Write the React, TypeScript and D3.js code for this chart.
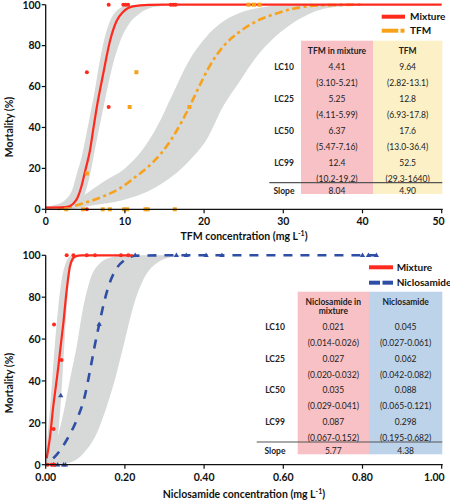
import React from "react";
import * as d3 from "d3";

// ---------- Top panel (TFM) ----------
const tfmTicks = [0, 10, 20, 30, 40, 50];
const yTicks = [0, 20, 40, 60, 80, 100];

const mixCurveX = [0, 2, 3, 3.5, 4, 4.5, 5, 5.6, 6, 6.5, 7.25, 8.1, 8.95, 9.8, 11, 13, 15, 50];
const mixCurveY = [0.8, 0.9, 1.5, 2.8, 5.5, 11, 19, 29, 39, 51, 66, 82, 92, 96.6, 99.2, 99.9, 100, 100];

const tfmCurveX = [1.5, 3.3, 4.7, 7.2, 9.4, 11.4, 13, 14.5, 16, 17.2, 18.2, 19.5, 20.7, 22.4, 24.4, 26.4, 28.8, 31.2, 34.8, 40];
const tfmCurveY = [0.1, 1.3, 2.9, 6.2, 10.3, 16, 21, 27, 35, 43, 50.5, 61, 70, 79.5, 86.5, 91.5, 95.3, 98, 99.7, 100];

const mixBandHiX = [0, 1.5, 2.6, 3.4, 3.9, 4.5, 5.0, 5.6, 6.2, 6.8, 7.6, 8.6, 10.0, 11.5, 13];
const mixBandHiY = [1.5, 2.5, 5, 10, 17, 25, 34, 46, 58, 72, 86, 95.5, 99.3, 99.9, 100];
const mixBandLoX = [0, 2, 3.5, 4.3, 4.9, 5.6, 6.4, 7.3, 8.3, 9.3, 10.6, 11.9, 13.5, 16, 20];
const mixBandLoY = [0, 0, 0.5, 2.5, 7, 17, 33, 50, 68, 81, 91, 95.8, 98.7, 99.9, 100];

const tfmBandHiX = [0, 2, 4, 5.6, 7.5, 10, 12, 14, 16, 18, 20.2, 22.3, 24.4, 27.4, 30.7, 35];
const tfmBandHiY = [1, 2.5, 5, 9, 14, 20, 28, 40, 56, 72, 84, 91.5, 95.8, 98.7, 99.8, 100];
const tfmBandLoX = [0, 3, 5.6, 9.8, 14, 18.2, 20.3, 22.5, 24.4, 26.5, 28.6, 30.8, 33, 35.1, 38, 41.4];
const tfmBandLoY = [0, 0, 1.7, 4.5, 11, 24, 34, 51, 62, 74, 83, 90, 95, 98, 99.4, 100];

const mixPtsX = [5.2, 5.2, 7.95, 7.95, 9.8, 10.1, 10.4, 15.8, 16.1, 16.4];
const mixPtsY = [0, 67, 50, 100, 100, 100, 100, 100, 100, 100];
const tfmPtsX = [2.6, 4.7, 7.2, 8.1, 9.9, 10.3, 12.6, 12.9, 16.3, 5.2, 10.6, 11.45, 18.15, 25.6, 26.3, 27.0];
const tfmPtsY = [0, 0, 0, 0, 0, 0, 0, 0, 0, 17.5, 50, 67, 50, 100, 100, 100];

const lcLabels = ["LC10", "LC25", "LC50", "LC99"];
const tfmMixVals = ["4.41", "5.25", "6.37", "12.4"];
const tfmMixCI = ["(3.10-5.21)", "(4.11-5.99)", "(5.47-7.16)", "(10.2-19.2)"];
const tfmVals = ["9.64", "12.8", "17.6", "52.5"];
const tfmCI = ["(2.82-13.1)", "(6.93-17.8)", "(13.0-36.4)", "(29.3-1640)"];
const tfmSlopes = ["8.04", "4.90"];

// ---------- Bottom panel (Niclosamide) ----------
const niclTicks = [0, 0.2, 0.4, 0.6, 0.8, 1.0];

const nmixCurveX = [0.0025, 0.011, 0.019, 0.026, 0.032, 0.038, 0.0445, 0.053, 0.061, 0.068, 0.075, 0.09, 0.22];
const nmixCurveY = [3, 13.4, 27.7, 38, 47, 57, 67.5, 83.4, 94.6, 98.3, 99.5, 100, 100];

const niclCurveX = [0.019, 0.035, 0.053, 0.078, 0.099, 0.112, 0.124, 0.135, 0.148, 0.162, 0.18, 0.2, 0.226, 0.3, 0.835];
const niclCurveY = [3, 6.5, 11.8, 21.3, 33, 45, 57, 67, 78, 87, 94, 97.8, 99.8, 100, 100];

const nmixBandHiX = [0, 0.004, 0.012, 0.02, 0.03, 0.04, 0.05, 0.06, 0.07];
const nmixBandHiY = [3, 12, 30, 50, 72, 88, 96, 99.3, 100];
const nmixBandLoX = [0, 0.02, 0.03, 0.04, 0.048, 0.055, 0.062, 0.072, 0.085];
const nmixBandLoY = [0, 2, 12, 35, 60, 80, 92, 98, 100];

const niclBandHiX = [0, 0.011, 0.028, 0.0445, 0.061, 0.078, 0.095, 0.112, 0.137, 0.171, 0.2];
const niclBandHiY = [0.5, 2.2, 11.8, 24.5, 40.4, 56.3, 75.4, 88.2, 96.2, 99.3, 100];
const niclBandLoX = [0, 0.053, 0.095, 0.129, 0.154, 0.179, 0.2, 0.221, 0.246, 0.28, 0.322, 0.37];
const niclBandLoY = [0, 0.7, 5.4, 15, 27.7, 43.6, 59.5, 75.4, 88.2, 96.2, 99.3, 100];

const nmixPtsX = [0.005, 0.015, 0.022, 0.02, 0.021, 0.04, 0.053, 0.07, 0.1035, 0.1245, 0.19, 0.2085];
const nmixPtsY = [0, 0, 0, 17, 67, 50, 100, 100, 100, 100, 100, 100];
const niclPtsX = [0.02, 0.03, 0.045, 0.05, 0.038, 0.135, 0.226, 0.33, 0.355, 0.405, 0.445, 0.8, 0.815, 0.835];
const niclPtsY = [0, 0, 0, 0, 33, 67, 100, 100, 100, 100, 100, 100, 100, 100];

const nmixVals = ["0.021", "0.027", "0.035", "0.087"];
const nmixCI = ["(0.014-0.026)", "(0.020-0.032)", "(0.029-0.041)", "(0.067-0.152)"];
const niclVals = ["0.045", "0.062", "0.088", "0.298"];
const niclCI = ["(0.027-0.061)", "(0.042-0.082)", "(0.065-0.121)", "(0.195-0.682)"];
const niclSlopes = ["5.77", "4.38"];

const RED = "#fe2a1e";
const ORANGE = "#f7a21b";
const BLUE = "#2f4fa6";
const BAND = "#d7d8d8";
const PINK = "#f8c1c5";
const YELLOW = "#fcf0c6";
const LBLUE = "#bcd3ea";
const FONT = "Lato, 'Open Sans', sans-serif";

type Sc = d3.ScaleLinear<number, number>;

const zip = (xs: number[], ys: number[]) => xs.map((x, i) => [x, ys[i]] as [number, number]);

function linePath(x: Sc, y: Sc, xs: number[], ys: number[]) {
  return d3.line<[number, number]>().x((d) => x(d[0])).y((d) => y(d[1])).curve(d3.curveMonotoneX)(zip(xs, ys)) || "";
}

function bandPath(x: Sc, y: Sc, hx: number[], hy: number[], lx: number[], ly: number[]) {
  const g = d3.line<[number, number]>().x((d) => x(d[0])).y((d) => y(d[1])).curve(d3.curveMonotoneX);
  const a = g(zip(hx, hy)) || "";
  const lo = zip(lx, ly).reverse();
  const b = (g(lo) || "").replace(/^M/, "L");
  return a + b + "Z";
}

function Axes({ x, y, xt, fmt, x0, x1, y0, y1, title, titleY, ytitleY }: any) {
  return (
    <g fontFamily={FONT} fontWeight={700} fill="#111">
      <line x1={x0} x2={x1} y1={y0} y2={y0} stroke="#111" strokeWidth={1.3} />
      <line x1={x0} x2={x0} y1={y0} y2={y1} stroke="#111" strokeWidth={1.3} />
      {xt.map((t: number, i: number) => {
        const last = i === xt.length - 1;
        return (
          <g key={"x" + t}>
            <line x1={x(t)} x2={x(t)} y1={y0} y2={y0 + 4} stroke="#111" strokeWidth={1.2} />
            <text x={last ? x(t) + 3 : x(t)} y={y0 + 16} textAnchor={last ? "end" : "middle"} fontSize={10.5}>{fmt(t)}</text>
          </g>
        );
      })}
      {yTicks.map((t) => (
        <g key={"y" + t}>
          <line x1={x0 - 4} x2={x0} y1={y(t)} y2={y(t)} stroke="#111" strokeWidth={1.2} />
          <text x={x0 - 5} y={y(t) + 3.8} textAnchor="end" fontSize={10.5}>{t}</text>
        </g>
      ))}
      <text x={244} y={titleY} textAnchor="middle" fontSize={10.5}>
        {title} (mg L<tspan dy={-4} fontSize={7}>-1</tspan><tspan dy={4}>)</tspan>
      </text>
      <text transform={`translate(13,${ytitleY}) rotate(-90)`} textAnchor="middle" fontSize={10.5}>Mortality (%)</text>
    </g>
  );
}

function Table({ left, mid, right, top, bottom, c1, c2, head1, head2, rowY, labX, v1, ci1, v2, ci2, slopes, sepY, sepX0, slopeY }: any) {
  const m1 = (left + mid) / 2;
  const m2 = (mid + right) / 2;
  return (
    <g fontFamily={FONT} fontSize={8.5} fill="#222">
      <rect x={left} y={top} width={mid - left} height={bottom - top} fill={c1} />
      <rect x={mid} y={top} width={right - mid} height={bottom - top} fill={c2} />
      {head1.map((h: string, i: number) => (
        <text key={"h1" + i} x={m1} y={top + 13 + i * 9} textAnchor="middle" fontWeight={700}>{h}</text>
      ))}
      {head2.map((h: string, i: number) => (
        <text key={"h2" + i} x={m2} y={top + 13 + i * 9} textAnchor="middle" fontWeight={700}>{h}</text>
      ))}
      {lcLabels.map((l: string, i: number) => (
        <g key={l}>
          <text x={labX} y={rowY[2 * i] + 3} textAnchor="middle" fontWeight={700}>{l}</text>
          <text x={m1} y={rowY[2 * i] + 3} textAnchor="middle">{v1[i]}</text>
          <text x={m1} y={rowY[2 * i + 1] + 3} textAnchor="middle">{ci1[i]}</text>
          <text x={m2} y={rowY[2 * i] + 3} textAnchor="middle">{v2[i]}</text>
          <text x={m2} y={rowY[2 * i + 1] + 3} textAnchor="middle">{ci2[i]}</text>
        </g>
      ))}
      <line x1={sepX0} x2={right} y1={sepY} y2={sepY} stroke="#555" strokeWidth={1.2} />
      <text x={labX} y={slopeY + 3} textAnchor="middle" fontWeight={700}>Slope</text>
      <text x={m1} y={slopeY + 3} textAnchor="middle">{slopes[0]}</text>
      <text x={m2} y={slopeY + 3} textAnchor="middle">{slopes[1]}</text>
    </g>
  );
}

function tri(cx: number, cy: number, s: number) {
  return `M${cx},${cy - s}L${cx + s * 0.95},${cy + s * 0.6}L${cx - s * 0.95},${cy + s * 0.6}Z`;
}

export default function App() {
  const x0 = 45.7, x1 = 441.7;
  const xT = d3.scaleLinear().domain([0, 50]).range([x0, x1]);
  const yT = d3.scaleLinear().domain([0, 100]).range([209.3, 4.7]);
  const xB = d3.scaleLinear().domain([0, 1]).range([x0, x1]);
  const yB = d3.scaleLinear().domain([0, 100]).range([464.7, 255.3]);

  const topRows = [67.3, 83.3, 99.3, 115.3, 131.1, 146.9, 162.8, 178.8];
  const botRows = [327.3, 343.3, 359, 374.7, 390.4, 406, 421.7, 437.6];

  return (
    <svg width={450} height={501} style={{ position: "absolute", left: 0, top: 0, background: "#fff" }}>
      {/* ---------- TOP ---------- */}
      <path d={bandPath(xT, yT, tfmBandHiX, tfmBandHiY, tfmBandLoX, tfmBandLoY)} fill={BAND} />
      <path d={bandPath(xT, yT, mixBandHiX, mixBandHiY, mixBandLoX, mixBandLoY)} fill={BAND} />
      <path d={linePath(xT, yT, tfmCurveX, tfmCurveY)} fill="none" stroke={ORANGE} strokeWidth={2.6} strokeDasharray="8,3.5,3,3.5" />
      <path d={linePath(xT, yT, mixCurveX, mixCurveY)} fill="none" stroke={RED} strokeWidth={2.2} />
      {tfmPtsX.map((v, i) => (
        <rect key={"tp" + i} x={xT(v) - 2} y={yT(tfmPtsY[i]) - 2} width={4} height={4} fill={ORANGE} />
      ))}
      {mixPtsX.map((v, i) => (
        <circle key={"mp" + i} cx={xT(v)} cy={yT(mixPtsY[i])} r={2} fill={RED} />
      ))}
      <Axes x={xT} y={yT} xt={tfmTicks} fmt={(t: number) => String(t)} x0={x0} x1={x1 + 1} y0={209.3} y1={4.7}
        title="TFM concentration" titleY={240} ytitleY={127} />
      <Table left={301} mid={373} right={442.3} top={40.7} bottom={194} c1={PINK} c2={YELLOW}
        head1={["TFM in mixture"]} head2={["TFM"]} rowY={topRows} labX={284}
        v1={tfmMixVals} ci1={tfmMixCI} v2={tfmVals} ci2={tfmCI} slopes={tfmSlopes}
        sepY={182.7} sepX0={269.3} slopeY={190.7} />
      <g fontFamily={FONT} fontWeight={700} fontSize={10} fill="#111">
        <line x1={381.7} x2={405} y1={16.7} y2={16.7} stroke={RED} strokeWidth={4} />
        <text x={410} y={20.2}>Mixture</text>
        <line x1={381.7} x2={398.3} y1={30.7} y2={30.7} stroke={ORANGE} strokeWidth={4} />
        <line x1={400.5} x2={404.5} y1={30.7} y2={30.7} stroke={ORANGE} strokeWidth={4} />
        <text x={410} y={34.2}>TFM</text>
      </g>

      {/* ---------- BOTTOM ---------- */}
      <path d={bandPath(xB, yB, niclBandHiX, niclBandHiY, niclBandLoX, niclBandLoY)} fill={BAND} />
      <path d={bandPath(xB, yB, nmixBandHiX, nmixBandHiY, nmixBandLoX, nmixBandLoY)} fill={BAND} />
      <path d={linePath(xB, yB, niclCurveX, niclCurveY)} fill="none" stroke={BLUE} strokeWidth={2.6} strokeDasharray="9,8" />
      <path d={linePath(xB, yB, nmixCurveX, nmixCurveY)} fill="none" stroke={RED} strokeWidth={2.2} />
      {niclPtsX.map((v, i) => (
        <path key={"np" + i} d={tri(xB(v), yB(niclPtsY[i]), 2.8)} fill={BLUE} />
      ))}
      {nmixPtsX.map((v, i) => (
        <circle key={"nm" + i} cx={xB(v)} cy={yB(nmixPtsY[i])} r={2} fill={RED} />
      ))}
      <Axes x={xB} y={yB} xt={niclTicks} fmt={(t: number) => t.toFixed(2)} x0={x0} x1={x1 + 1} y0={464.7} y1={255.3}
        title="Niclosamide concentration" titleY={498} ytitleY={383} />
      <Table left={297.7} mid={369} right={442.3} top={291.7} bottom={454.3} c1={PINK} c2={LBLUE}
        head1={["Niclosamide in", "mixture"]} head2={["Niclosamide"]} rowY={botRows} labX={275}
        v1={nmixVals} ci1={nmixCI} v2={niclVals} ci2={niclCI} slopes={niclSlopes}
        sepY={442} sepX0={256.7} slopeY={450.7} />
      <g fontFamily={FONT} fontWeight={700} fontSize={10} fill="#111">
        <line x1={369} x2={393} y1={267.3} y2={267.3} stroke={RED} strokeWidth={4} />
        <text x={396.7} y={270.8}>Mixture</text>
        <line x1={369} x2={380} y1={282.7} y2={282.7} stroke={BLUE} strokeWidth={4} />
        <line x1={382.5} x2={393} y1={282.7} y2={282.7} stroke={BLUE} strokeWidth={4} />
        <text x={396.7} y={286.2}>Niclosamide</text>
      </g>
    </svg>
  );
}
